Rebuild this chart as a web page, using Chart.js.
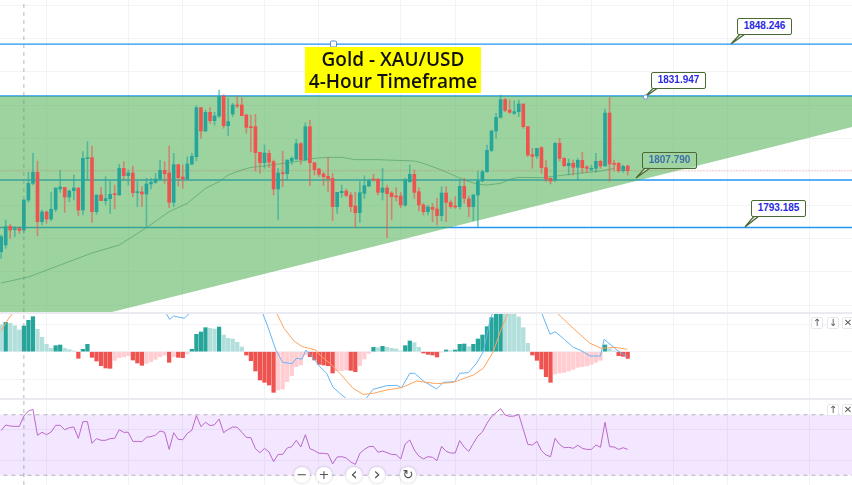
<!DOCTYPE html>
<html>
<head>
<meta charset="utf-8">
<title>Gold - XAU/USD</title>
<script src="https://cdn.jsdelivr.net/npm/chart.js@4"></script>
<style>
  html, body { margin: 0; padding: 0; background: #fff; width: 852px; height: 485px; overflow: hidden; }
  canvas { position: absolute; left: 0; }
  #mainChart { top: 0; }
  #macdChart { top: 312px; }
  #rsiChart { top: 400px; }
  .sep { position: absolute; left: 0; width: 852px; height: 2px; background: #e9ebf0; }
  .title {
    position: absolute; left: 305px; top: 47px; width: 176px; height: 46px;
    background: #ffff00; color: #111; text-align: center;
    font: 600 19px/22px "Open Sans", sans-serif; padding-top: 1px; box-sizing: border-box;
  }
  .callout {
    position: absolute; width: 55px; height: 17px; box-sizing: border-box;
    background: #fff; border: 1.5px solid #4a6a35; border-radius: 2px;
    color: #2a2ae0; text-align: center; font: bold 10px/14px "Liberation Sans", sans-serif;
  }
  .callout.faded { background: rgba(160,212,162,.75); color: #3f6fa8; }
  #tails { position: absolute; left: 0; top: 0; }
  .pane-btn {
    position: absolute; width: 12px; height: 12px; box-sizing: border-box;
    border: 1px solid #e6e8ee; border-radius: 2px; background: #fff; color: #555;
    text-align: center; font: 10px/10px "DejaVu Sans", sans-serif;
  }
  .nav-btn {
    position: absolute; top: 467px; width: 16px; height: 16px; border-radius: 50%;
    background: #fff; box-shadow: 0 0 3px rgba(0,0,0,.22); color: #555;
    text-align: center; font: 13px/16px "DejaVu Sans", sans-serif;
  }
  .nav-btn.arrow { font-size: 18px; line-height: 14px; }
</style>
</head>
<body>
<canvas id="mainChart" width="852" height="312"></canvas>
<canvas id="macdChart" width="852" height="87"></canvas>
<canvas id="rsiChart" width="852" height="85"></canvas>
<div class="sep" style="top:312px"></div>
<div class="sep" style="top:398px"></div>

<svg id="tails" width="852" height="485">
  <g fill="#dfe8d8" stroke="#4a6a35" stroke-width="1.2">
    <polygon points="731,44 740,34 745,34"/>
    <polygon points="645,97 654,87 659,87"/>
    <polygon points="636,178 645,168 650,168"/>
    <polygon points="745,227 754,216 759,216"/>
  </g>
  <circle cx="645.5" cy="97" r="2.2" fill="#fff" stroke="#7a8fe0"/>
  <rect x="330.5" y="41" width="6" height="6" rx="1" fill="#fff" stroke="#5a8fd8"/>
</svg>

<div class="title">Gold - XAU/USD<br>4-Hour Timeframe</div>
<div class="callout" style="left:737px;top:18px">1848.246</div>
<div class="callout" style="left:651px;top:72px">1831.947</div>
<div class="callout faded" style="left:642px;top:152px">1807.790</div>
<div class="callout" style="left:751px;top:200px">1793.185</div>

<div class="pane-btn" style="left:811px;top:317px">↑</div>
<div class="pane-btn" style="left:827px;top:317px">↓</div>
<div class="pane-btn" style="left:842px;top:317px">✕</div>
<div class="pane-btn" style="left:827px;top:404px">↑</div>
<div class="pane-btn" style="left:842px;top:404px">✕</div>

<div class="nav-btn" style="left:294px">−</div>
<div class="nav-btn" style="left:316px">+</div>
<div class="nav-btn arrow" style="left:346px">‹</div>
<div class="nav-btn arrow" style="left:369px">›</div>
<div class="nav-btn" style="left:400px">↻</div>

<script>
/* Candles, one per 4 hours */
const opens = [
  1786,1788,1793.6,1792.6,1792.9,1792.5,1801.5,1806.5,1809.8,1795,
  1797.9,1795.8,1798.7,1804.8,1805.3,1802.4,1804.3,1805.1,1798.5,1813.9,
  1814.2,1798,1803,1801.3,1801.9,1803.3,1803,1811,1808.8,1809.6,
  1803.7,1803.9,1803.3,1806.3,1806.8,1807.8,1810.4,1809.6,1800.8,1812.1,
  1808.4,1807.8,1812.3,1814.5,1829.2,1822.2,1827.8,1825.3,1826.7,1832.7,
  1823.8,1827.3,1830,1830,1827,1823.5,1823.5,1815.8,1812.7,1815.5,
  1813,1804.8,1809.7,1809.4,1813.2,1813.8,1818.4,1813.6,1823.5,1812.7,
  1810.8,1809.3,1808.6,1808,1799.5,1803.7,1804.2,1803,1799.7,1797.7,
  1803.5,1805.7,1807.7,1807.7,1803.8,1805.1,1803.6,1802.7,1802.7,1800,
  1807,1809.2,1804,1800,1798,1799.3,1798.8,1796.8,1803.6,1800.8,
  1799.7,1799.5,1805.6,1801.8,1799.5,1803,1807.2,1810,1816.4,1822.2,
  1826.3,1831.6,1828.5,1827.5,1828,1830.3,1823.5,1815.1,1814.7,1817.2,
  1811.2,1808,1807.5,1818.5,1814,1811.8,1812.5,1811.3,1813.4,1811.4,
  1810.7,1811,1813.1,1811.7,1827.6,1812.4,1812.5,1810.3,1811.7
];
const highs = [
  1791,1795.5,1794.2,1793.5,1793.5,1801.5,1809.8,1815.5,1813.2,1798.5,
  1798.2,1803.8,1805.1,1810.4,1805.3,1804.5,1809,1805.1,1816,1819,
  1817.7,1803,1805.3,1808.5,1807,1806,1812.2,1813,1810.5,1811.7,
  1807,1805.5,1808,1808,1809.5,1813.5,1813,1817.7,1815.5,1812.2,
  1812,1814.5,1815.5,1829.8,1829.2,1828.5,1829.2,1827.8,1834.5,1833,
  1832,1830.5,1832.7,1832.2,1827.2,1827,1827.2,1815.8,1818,1816.5,
  1813.5,1811,1816.2,1813.5,1814.5,1819.7,1818.8,1824.7,1825.5,1812.7,
  1811,1809.8,1814.3,1809.5,1803.8,1806,1804.8,1803.8,1803.8,1807,
  1808.8,1807.8,1809.2,1808,1811,1806,1804,1805.2,1803.8,1808,
  1812,1810.5,1805.2,1800.5,1799.8,1800.5,1802,1805.5,1805.5,1801.5,
  1802.5,1807.5,1808,1802.7,1803.2,1810.2,1810.5,1818,1822.5,1827.5,
  1833,1832,1831.5,1831.2,1831.5,1830.3,1823.5,1817,1817,1817.5,
  1813.5,1808.2,1818.8,1820,1814.2,1813.8,1813.5,1814,1815.8,1811.8,
  1812,1815.5,1813.5,1828.8,1832.2,1813.5,1812.8,1812,1812
];
const lows = [
  1784,1787,1790,1790.5,1791.5,1791.5,1800.8,1806,1790.7,1794,
  1794.5,1795.2,1798,1803.8,1797.8,1801,1801.5,1796.8,1797,1807.5,
  1794.8,1797.2,1801.3,1800,1797.5,1798.8,1803,1807.7,1806,1802.5,
  1799.5,1799.5,1793.2,1804.8,1806.5,1807.5,1806.5,1799.2,1799.5,1805.7,
  1805,1807.5,1812,1813.2,1820,1822,1824.5,1824,1826.2,1823,
  1820.8,1826.5,1829.2,1826.8,1821.5,1816,1810.2,1809.5,1811,1811.2,
  1803,1795.7,1805.5,1807.5,1812.2,1813.5,1812.2,1813.2,1805.8,1809,
  1808.5,1805.8,1804,1795.3,1797.5,1802.3,1802.5,1798,1793.3,1794.8,
  1802,1805.5,1807.2,1803,1801.5,1790.2,1795.5,1801.2,1799.2,1799.5,
  1806.8,1802,1798.2,1797,1797,1795,1794,1795.2,1795,1799,
  1799,1798.8,1800.5,1796.5,1795.3,1793.5,1807,1809.8,1816,1820,
  1826,1828,1827.5,1827.2,1826.5,1823,1814.5,1811,1814,1809.5,
  1807,1806.3,1807,1813.2,1811.5,1809,1809,1807.5,1809.5,1809.8,
  1810.2,1809.8,1811,1811.7,1807.2,1810.2,1809.8,1809.8,1809
];
const closes = [
  1790.5,1793.5,1792.5,1792.8,1792.4,1801.5,1806.5,1809.8,1795,1797.9,
  1795.8,1798.7,1805.1,1805.4,1802.4,1804.2,1805.1,1798.5,1814,1814.2,
  1798,1803,1801.3,1801.9,1803.2,1803.1,1811,1808.8,1809.6,1803.7,
  1803.9,1803.3,1806.3,1806.8,1807.8,1810.4,1809.4,1800.8,1812.1,1808.2,
  1807.8,1812.3,1814.6,1829.2,1822.2,1827.8,1825.3,1826.7,1832.5,1823.8,
  1825,1830,1829.7,1826.8,1823.3,1823.2,1815.7,1812.7,1815.6,1812.9,
  1804.8,1809.6,1809.4,1813.5,1814,1818.4,1813.6,1823.5,1812.7,1810.6,
  1809.2,1808.5,1807.9,1799.5,1803.8,1804.1,1802.9,1799.5,1797.7,1803.7,
  1805.8,1807.2,1807.5,1803.8,1805.1,1803.4,1802.5,1802.4,1800,1807.5,
  1809.2,1803.8,1800,1798,1799.4,1798.7,1796.8,1803.6,1800.8,1799.5,
  1799.4,1805.6,1802,1799.5,1803,1807.2,1810,1816.4,1822.2,1826.3,
  1831.6,1828.4,1827.8,1828,1830.3,1823.5,1815,1814.6,1817,1811.2,
  1807.8,1807.2,1818.5,1814,1811.8,1812.5,1811.3,1813.4,1811.2,1811,
  1811,1813.1,1811.7,1827.6,1812.3,1812.2,1810.3,1811.6,1810.3
];

/* Moving average, read at a few candles */
const maX = [0,6,13,20,26,32,37,41,45,48,50,53,55,58,61,66,69,72,75,78,83,91,93,97,102,105,107,110,112,114,119,123,127,132,135];
const maValues = [1776.6,1778.4,1782,1785.6,1788,1793.2,1798,1800.5,1805,1807,1809,1810.5,1811.3,1811.7,1812.3,1813.2,1814,1814.3,1814.3,1813.6,1813.6,1813.2,1812.5,1810.5,1807.5,1806.2,1806,1806.5,1807.7,1808.3,1808.2,1808.8,1809.5,1810.2,1811];

/* Drawn levels and the wedge */
const levelValues = [1848.25, 1832.7, 1807.5, 1793.25];
const lastPrice = 1810.4;
const wedgeX = [-1, 24.4, 188];
const wedgeTop = [1832.7, 1832.7, 1832.7];
const wedgeBottom = [1767.9, 1767.9, 1823.6];

/* MACD pane */
const histogram = [
  8,8.8,8.5,7.8,6.5,7.7,9.4,10.5,6.7,4.3,
  2.2,1,1.8,2,1,0.6,0.2,-2,0.7,2.2,
  -1.7,-2.8,-4.2,-4.9,-5,-2.6,-1.8,-1.6,-1.2,-2.5,
  -3.4,-4.1,-3.5,-3,-2.3,-1.5,-1,-3.2,-1.5,-1.7,
  -1.8,-0.7,0.7,5.2,5.9,7.2,7,6.8,7.4,5,
  4,3.8,2.8,1.4,-1,-2.7,-5.8,-8.5,-9.2,-10,
  -12.2,-11.5,-11.2,-9,-7.2,-4.5,-4,-1,-1.5,-2.5,
  -3.8,-4,-4.2,-6.4,-5.7,-5.7,-5.5,-5.6,-6,-4.2,
  -2.2,-0.5,1.3,1.2,1.6,1.3,1,0.8,0.2,1.8,
  3.2,2.7,1.3,-0.4,-0.8,-1,-1.6,-0.1,0.5,0.3,
  0.5,2.2,2.3,1.5,2.2,3.8,5,7.5,10.2,13,
  13.2,12.8,12.6,11.5,10.4,7.2,2.5,-1,-2.6,-5.2,
  -7.5,-9.2,-6.7,-6.4,-6.2,-5.8,-5.3,-4.7,-4.5,-4.3,
  -3.8,-3.2,-2.6,2,0.8,0.2,-1.2,-1.4,-2
];
const macdX = [33,34.4,36.2,37.1,38,40.3,41.7,43,56,57.5,58.6,60.5,62,64.1,65,66.3,67.1,68.5,70.2,71.7,73.1,74.6,76.1,77.5,79,80.3,81.9,84.9,87.1,88.2,90,91.1,93,95.9,97.4,99.9,101,102.9,104.7,106.2,107.6,108.7,110,118,119,120.9,122,123.8,126,127.5,129.7,132,132.8,135.9,137.9];
const macdValues = [11.8,11.6,11.8,9.7,10.7,10,11.8,14,14,11.8,8,0.5,-3.2,-3.6,-2,-2.2,0.5,-1.5,-4.5,-6.5,-10.7,-12.5,-14.2,-17,-17,-14.2,-11.3,-10.2,-10.1,-10.8,-6.5,-6.5,-8.8,-11.2,-9.2,-9,-6.5,-6.3,-3.5,0,9,13.5,15,15,11.8,5.2,6,4,1.3,0.5,-1.3,-1.3,3.7,0.2,-1.5];
const signalX = [0,1.4,2.7,4,38,40,41.5,43,60,60.6,62.3,64.5,66.3,69.3,70.2,72.4,74.6,77.5,79.7,81.9,84.9,88.2,91.5,95.9,99.6,104,106.2,108.4,110.2,111.7,113,120,122.3,126,129.7,132.2,135.2,137.9];
const signalValues = [6.2,9.5,11.8,15,13,11.7,11.5,13,15,11.8,7,3.2,1.5,0.5,-1,-3.5,-6.5,-11,-12.8,-12.5,-11.5,-10.8,-8.8,-9.6,-9.2,-7,-5,0,7,11.8,15,15,11.8,7,2.5,1,1.3,0.7];

/* RSI pane */
const rsiValues = [
  59.5,63.2,62.5,62.3,62.3,69.1,72.4,73.5,56.4,58.4,
  56.8,58.6,63,63,60.1,61.4,61.9,54.4,65.4,65.4,
  51.1,54.2,53.1,53.1,54.2,54.4,60.1,58.4,58.4,52.4,
  52.4,52.2,55.1,55.5,56.6,59.2,58.4,47.1,58.1,53.7,
  53.5,57.7,59.7,69.4,62.1,65,62.8,63.4,67.2,58.1,
  60.3,61.9,61.7,58.4,55.1,54.8,47.6,44.9,47.8,45.4,
  39,43.8,43.8,48,48.9,53.1,48.7,56.8,47.6,46.3,
  44.5,44.5,44.1,37.5,42.1,42.3,41.4,38.8,37.2,44.5,
  47.1,48.9,49.1,45.2,46,44.9,43.8,43.6,40.8,50.7,
  53.3,46.7,42.7,40.8,42.3,41.9,39.7,49.1,45.8,44.7,
  44.7,52.9,48.5,45.8,51.1,55.9,58.6,64.3,68.7,71.3,
  74,69.8,68.9,69.1,70.2,60.3,50.4,50,52.4,46.3,
  43.4,42.3,54.4,50.4,48.2,48.5,47.8,49.8,47.8,47.1,
  47.1,50,48.5,65,48.9,48.7,47.1,48.2,47.1
];
const rsiBand = [70, 30];

/* Grid: candle numbers and values the faint lines sit on */
const gridCandles = [10,28,40,58,70,88,100,118,130,148,160,178];
const priceGrid = [1860,1850,1840,1830,1820,1810,1800,1790,1780,1770];
const macdGrid = [8.2,0,-8.2];
const rsiGrid = [60,40];
const crosshairCandle = 5;

const UP = '#26a69a', DOWN = '#ef5350';
const xMin = -0.258, xMax = 187.4;

function points(xs, ys) {
  return xs.map((x, i) => ({ x: x, y: ys[i] }));
}

function flatLine(value, extra) {
  return Object.assign({
    type: 'line',
    data: [{ x: xMin - 1, y: value }, { x: xMax + 1, y: value }],
    pointRadius: 0,
    borderWidth: 1
  }, extra);
}

function crosshair(yMin, yMax) {
  return {
    type: 'line',
    data: [{ x: crosshairCandle, y: yMin }, { x: crosshairCandle, y: yMax }],
    borderColor: 'rgba(120,123,134,.55)',
    borderWidth: 1,
    borderDash: [4, 4],
    pointRadius: 0,
    order: 0
  };
}

function paneOptions(yMin, yMax, yGrid) {
  const gridStyle = { color: '#f2f3f7', drawTicks: false };
  return {
    responsive: false,
    animation: false,
    events: [],
    layout: { padding: 0 },
    plugins: { legend: { display: false }, tooltip: { enabled: false } },
    scales: {
      x: {
        type: 'linear', min: xMin, max: xMax, offset: false,
        grid: Object.assign({ offset: false }, gridStyle),
        border: { display: false },
        ticks: { display: false },
        afterBuildTicks: axis => { axis.ticks = gridCandles.map(v => ({ value: v })); }
      },
      y: {
        min: yMin, max: yMax,
        grid: gridStyle,
        border: { display: false },
        ticks: { display: false },
        afterBuildTicks: axis => { axis.ticks = yGrid.map(v => ({ value: v })); }
      }
    }
  };
}

/* Price pane */
const candleIndex = opens.map((_, i) => i);
new Chart(document.getElementById('mainChart').getContext('2d'), {
  type: 'bar',
  data: {
    datasets: [
      ...levelValues.map(v => flatLine(v, { borderColor: '#2196f3', borderWidth: 1.3, order: 6 })),
      {
        type: 'line',
        data: points(wedgeX, wedgeTop),
        borderWidth: 0,
        pointRadius: 0,
        backgroundColor: 'rgba(76,175,80,.55)',
        fill: '+1',
        order: 5
      },
      {
        type: 'line',
        data: points(wedgeX, wedgeBottom),
        borderWidth: 0,
        pointRadius: 0,
        order: 5
      },
      {
        type: 'line',
        data: points(maX, maValues),
        borderColor: 'rgba(70,155,100,.6)',
        borderWidth: 1,
        pointRadius: 0,
        order: 3
      },
      flatLine(lastPrice, { borderColor: 'rgba(239,83,80,.55)', borderDash: [1, 2], order: 4 }),
      {
        data: candleIndex.map(i => ({ x: i, y: [lows[i], highs[i]] })),
        backgroundColor: candleIndex.map(i => closes[i] >= opens[i] ? 'rgba(38,166,154,.6)' : 'rgba(239,83,80,.6)'),
        barThickness: 1,
        grouped: false,
        order: 2
      },
      {
        data: candleIndex.map(i => ({ x: i, y: [opens[i], closes[i]] })),
        backgroundColor: candleIndex.map(i => closes[i] >= opens[i] ? UP : DOWN),
        barThickness: 3,
        minBarLength: 1,
        grouped: false,
        order: 1
      },
      crosshair(1767.9, 1861.5)
    ]
  },
  options: paneOptions(1767.9, 1861.5, priceGrid)
});

/* MACD pane */
function histogramColor(i) {
  const now = histogram[i], before = i > 0 ? histogram[i - 1] : now;
  if (now >= 0) return now > before ? UP : '#b2dfdb';
  return now < before ? DOWN : '#ffcdd2';
}

new Chart(document.getElementById('macdChart').getContext('2d'), {
  type: 'bar',
  data: {
    datasets: [
      {
        data: histogram.map((v, i) => ({ x: i, y: v })),
        backgroundColor: histogram.map((_, i) => histogramColor(i)),
        barThickness: 3.6,
        grouped: false,
        order: 3
      },
      {
        type: 'line',
        data: points(macdX, macdValues),
        borderColor: '#64b5f6',
        borderWidth: 1,
        pointRadius: 0,
        order: 2
      },
      {
        type: 'line',
        data: points(signalX, signalValues),
        borderColor: '#ffa35c',
        borderWidth: 1,
        pointRadius: 0,
        order: 1
      },
      crosshair(-14.2, 11.9)
    ]
  },
  options: paneOptions(-14.2, 11.9, macdGrid)
});

/* RSI pane */
new Chart(document.getElementById('rsiChart').getContext('2d'), {
  type: 'line',
  data: {
    datasets: [
      flatLine(rsiBand[0], {
        borderColor: '#b2b5be', borderDash: [4, 4],
        backgroundColor: 'rgba(153,51,255,.12)', fill: '+1', order: 3
      }),
      flatLine(rsiBand[1], { borderColor: '#b2b5be', borderDash: [4, 4], order: 3 }),
      {
        data: rsiValues.map((v, i) => ({ x: i, y: v })),
        borderColor: '#ba68c8',
        borderWidth: 1,
        pointRadius: 0,
        order: 1
      },
      crosshair(23.6, 79.7)
    ]
  },
  options: paneOptions(23.6, 79.7, rsiGrid)
});
</script>
</body>
</html>
